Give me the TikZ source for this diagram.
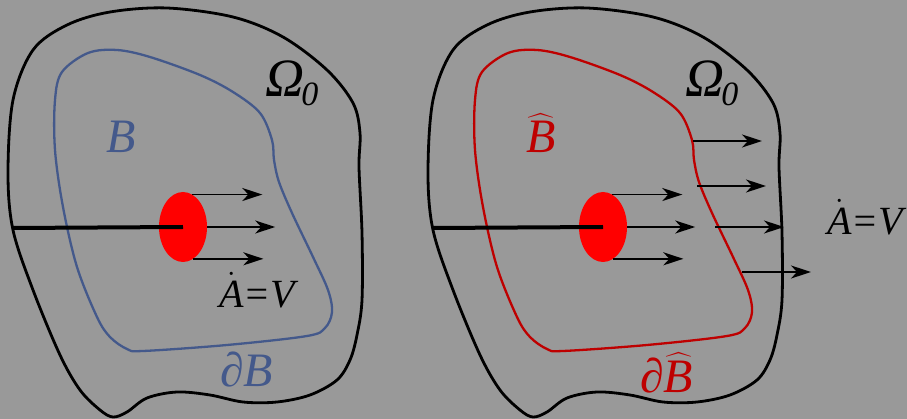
\RequirePackage{fix-cm}
\documentclass[tikz,border=0pt]{standalone}
\usepackage{amsmath}
\usepackage{fontspec}
\setmainfont{Liberation Serif}
\usepackage{tikz}
\usetikzlibrary{arrows.meta, shapes.geometric}
\definecolor{bggray}{HTML}{999999}
\definecolor{bblue}{HTML}{44598B}
\definecolor{dred}{HTML}{BE0000}
\tikzset{
  wall/.style={draw=black, line width=2.8pt},
  bdry/.style={line width=2.3pt},
  spot/.style={ellipse, fill=red, inner sep=0pt, minimum width=48pt, minimum height=70pt},
  rod/.style={line width=4pt},
  vel/.style={-{Stealth[length=20pt, width=13pt, inset=6pt]}, line width=1.9pt},
  lbl/.style={anchor=base west, inner sep=0pt, font=\itshape\fontsize{48}{56}\selectfont},
}

\begin{document}
\begin{tikzpicture}[x=1pt, y=-1pt]
  \fill[bggray] (0,0) rectangle (907,419);
  % both panels: body, region, inclusion with its rod
  \foreach \p/\dx/\col in {L/0/bblue, R/420/dred}{
    \begin{scope}[xshift=\dx pt]
      \draw[wall] plot[smooth cycle, tension=0.55] coordinates {
        (8,173) (13,100) (33,50) (67,25) (110,12) (167,8) (233,17) (283,37)
        (327,70) (353,103) (360,133) (359,167) (362,233) (362,300) (357,335)
        (350,360) (337,380) (310,395) (277,402) (243,402) (210,395) (177,392)
        (147,398) (127,412) (113,417) (100,410) (80,390) (60,355) (33,290) (13,230)};
      \draw[bdry, \col] plot[smooth cycle, tension=0.55] coordinates {
        (88,53) (117,50) (150,57) (200,75) (233,92) (260,113) (272,140) (274,160)
        (279,182) (292,213) (313,257) (328,290) (332,312) (325,328) (307,336)
        (227,345) (143,351) (127,349) (110,337) (97,317) (77,267) (63,207)
        (55,150) (55,100) (62,72)};
      \coordinate (rod\p) at (13,228);
      \node[spot] (spot\p) at (183,227) {};
      \draw[rod] (rod\p) -- (spot\p.center);
      \draw[vel] (spot\p.74) -- +(70,0);
      \draw[vel] (spot\p.east) -- +(68,0);
      \draw[vel] (spot\p.-72) -- +(70,0);
      \node[lbl] (om\p) at (265,97) {\fontsize{54}{60}\selectfont Ω\kern-3pt\raisebox{-9pt}{\fontsize{34}{40}\selectfont 0}};
    \end{scope}
  }
  % left panel labels
  \node[lbl, text=bblue] (regL) at (106,153) {B};
  \node[lbl, text=bblue] (bdL) at (220,386) {∂B};
  \node[lbl, font=\itshape\fontsize{40}{48}\selectfont] (velL) at (219,308) {$\dot{\text{A}}$=V};
  % right panel: flux through the boundary
  \foreach \n/\x/\y in {1/693/141, 2/697/186, 3/715/227, 4/742/272}{
    \coordinate (out\n) at (\x,\y);
    \draw[vel] (out\n) -- +(69,0);
  }
  \node[lbl, text=dred] (regR) at (526,153) {$\widehat{\text{B}}$};
  \node[lbl, text=dred] (bdR) at (640,392) {∂$\widehat{\text{B}}$};
  \node[lbl, font=\itshape\fontsize{40}{48}\selectfont] (velR) at (827,235) {$\dot{\text{A}}$=V};
\end{tikzpicture}
\end{document}
